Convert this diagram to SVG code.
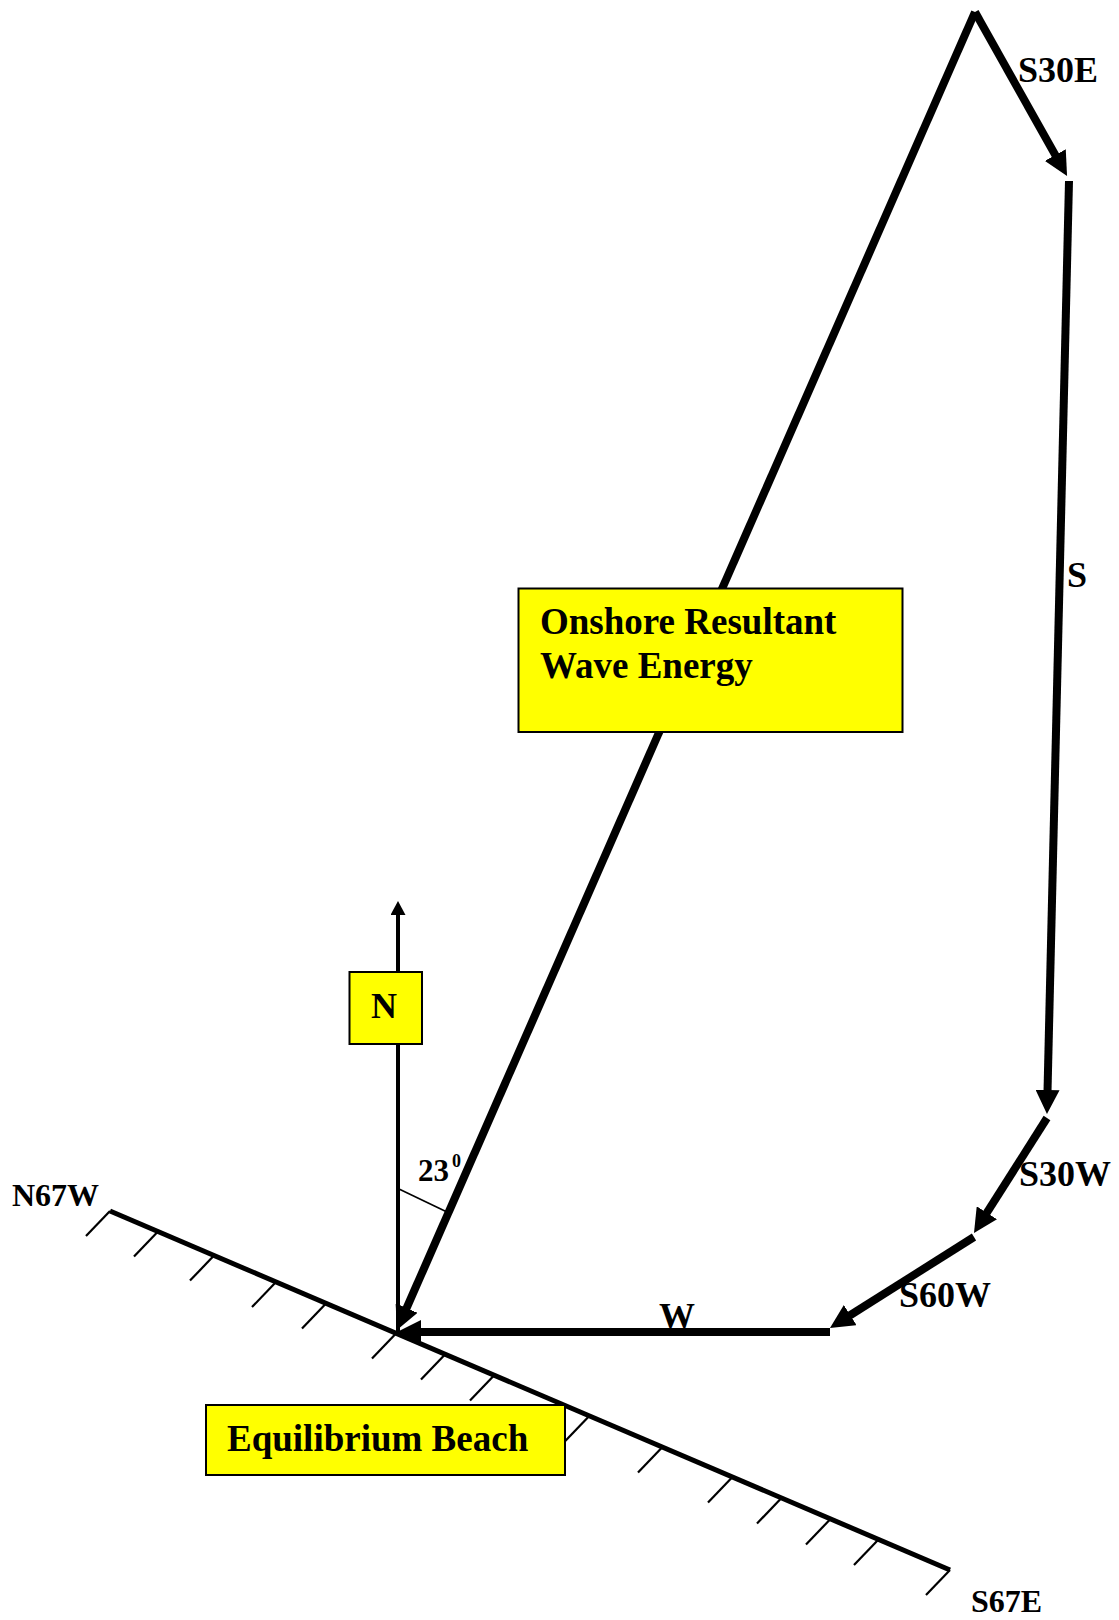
<svg xmlns="http://www.w3.org/2000/svg" width="1119" height="1620" viewBox="0 0 1119 1620">
<style>
.t{font-family:"Liberation Serif","Times New Roman",serif;font-weight:bold;fill:#000}
.heavy{stroke:#000;stroke-width:8;fill:none;marker-end:url(#ah)}
.thin{stroke:#000;stroke-width:4;fill:none}
.hatch{stroke:#000;stroke-width:2.2;fill:none}
.box{fill:#FFFF00;stroke:#000;stroke-width:2}
</style>
<defs>
<marker id="ah" viewBox="0 0 24 24" refX="10" refY="12" markerWidth="24" markerHeight="24" markerUnits="userSpaceOnUse" orient="auto"><path d="M0,0 L24,12 L0,24 z" fill="#000"/></marker>
<marker id="ahThin" viewBox="0 0 14 15" refX="7" refY="7.5" markerWidth="14" markerHeight="15" markerUnits="userSpaceOnUse" orient="auto"><path d="M0,0 L14,7.5 L0,15 z" fill="#000"/></marker>
</defs>
<rect width="1119" height="1620" fill="#fff"/>

<g id="shoreline">
<line x1="110" y1="1211" x2="950" y2="1570" stroke="#000" stroke-width="5"/>
<g class="hatch">
<line x1="110" y1="1211" x2="86" y2="1236"/>
<line x1="158" y1="1231.6" x2="134" y2="1256.6"/>
<line x1="214" y1="1255.6" x2="190" y2="1280.6"/>
<line x1="276" y1="1282.1" x2="252" y2="1307.1"/>
<line x1="326" y1="1303.5" x2="302" y2="1328.5"/>
<line x1="396" y1="1333.5" x2="372" y2="1358.5"/>
<line x1="445" y1="1354.5" x2="421" y2="1379.5"/>
<line x1="494" y1="1375.5" x2="470" y2="1400.5"/>
<line x1="589" y1="1416.2" x2="565" y2="1441.2"/>
<line x1="662" y1="1447.5" x2="638" y2="1472.5"/>
<line x1="732" y1="1477.5" x2="708" y2="1502.5"/>
<line x1="781" y1="1498.5" x2="757" y2="1523.5"/>
<line x1="830" y1="1519.5" x2="806" y2="1544.5"/>
<line x1="878" y1="1540" x2="854" y2="1565"/>
<line x1="950" y1="1570" x2="926" y2="1595"/>
</g>
</g>

<g id="connectors">
<line class="thin" x1="398" y1="1332" x2="398" y2="908" marker-end="url(#ahThin)"/>
<line x1="399" y1="1189" x2="447" y2="1212" stroke="#000" stroke-width="1.6"/>
<line class="heavy" x1="975" y1="12" x2="402.6" y2="1317.2"/>
<line class="heavy" x1="975" y1="12" x2="1060.2" y2="163.8"/>
<line class="heavy" x1="1069" y1="181" x2="1047.3" y2="1100"/>
<line class="heavy" x1="1047" y1="1118" x2="981.5" y2="1221.2"/>
<line class="heavy" x1="974" y1="1237" x2="841.8" y2="1320.5"/>
<line class="heavy" x1="830" y1="1332" x2="411" y2="1332"/>
</g>

<g id="labels">
<text class="t" x="1018" y="82" font-size="36">S30E</text>
<text class="t" x="1067" y="587" font-size="36">S</text>
<text class="t" x="1019" y="1186" font-size="36">S30W</text>
<text class="t" x="899" y="1307" font-size="36">S60W</text>
<text class="t" x="659" y="1328" font-size="36">W</text>
<text class="t" x="12" y="1206" font-size="32">N67W</text>
<text class="t" x="971" y="1612" font-size="32">S67E</text>
<text class="t" x="418" y="1181" font-size="31">23</text>
<text class="t" x="452" y="1167" font-size="18">0</text>
</g>

<g id="node-onshore">
<rect class="box" x="518.5" y="588.5" width="384" height="143.5"/>
<text class="t" x="540" y="634" font-size="37">Onshore Resultant</text>
<text class="t" x="540" y="677.5" font-size="37">Wave Energy</text>
</g>

<g id="node-north">
<rect class="box" x="349.5" y="972" width="72.5" height="72"/>
<text class="t" x="371" y="1018" font-size="36">N</text>
</g>

<g id="node-beach">
<rect class="box" x="206" y="1405" width="359" height="70"/>
<text class="t" x="227" y="1451" font-size="37">Equilibrium Beach</text>
</g>
</svg>
